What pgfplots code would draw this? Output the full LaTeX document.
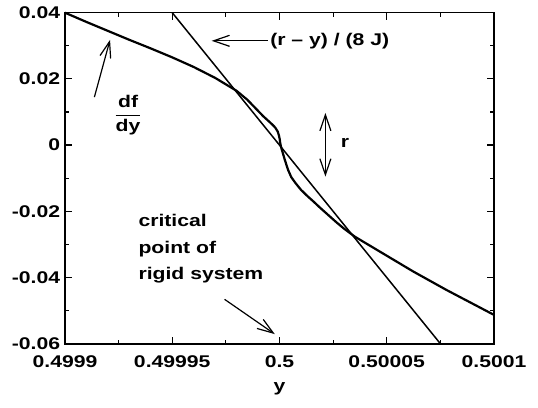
\documentclass[border=0pt]{standalone}
\usepackage{fontspec}
\setmainfont[FakeStretch=1.25]{Liberation Sans}
\usepackage{pgfplots}
\pgfplotsset{compat=1.18}
\usetikzlibrary{arrows.meta}
% x values are stored as (y - 0.5) * 1e5
\begin{document}
\fontsize{17}{20}\selectfont\bfseries
\begin{tikzpicture}[>={Straight Barb[length=16bp,width=11bp]}]
\begin{axis}[
  scale only axis, width=429bp, height=331bp,
  xmin=-10, xmax=10, ymin=-0.06, ymax=0.04,
  scaled y ticks=false, scaled x ticks=false,
  xtick={-10,-5,0,5,10},
  xticklabels={0.4999,0.49995,0.5,0.50005,0.5001},
  ytick={-0.06,-0.04,-0.02,0,0.02,0.04},
  yticklabels={-0.06,-0.04,-0.02,0,0.02,0.04},
  minor x tick num=1, minor y tick num=1,
  tick align=inside,
  major tick length=7bp, minor tick length=4bp,
  every tick/.style={line width=1.2bp, black},
  axis line style={line width=1.6bp},
  xlabel={y},
  xlabel style={yshift=-4bp},
  yticklabel style={xshift=1bp},
  xticklabel style={yshift=-6bp},
  /pgf/number format/assume math mode=true,
  clip=false,
]
% df/dy
\addplot[black, line width=2.2bp, line join=round] coordinates {
(-10,0.0400) (-9,0.0372) (-8,0.0345) (-7,0.0318) (-6,0.0292) (-5,0.0265)
(-4,0.0236) (-3,0.0203) (-2,0.0164) (-1.5,0.0137) (-1.142,0.0113)
(-0.755,0.0087) (-0.5,0.0072) (-0.317,0.0061) (-0.2,0.0053) (-0.084,0.0041)
(-0.03,0.0030) (0.01,0.0018) (0.03,0.0008) (0.06,-0.0002) (0.10,-0.0012)
(0.25,-0.0045) (0.40,-0.0075) (0.55,-0.0097) (0.75,-0.0115) (1.0,-0.0135)
(1.3,-0.0154) (1.576,-0.0170) (1.888,-0.0189) (2.354,-0.0216) (2.667,-0.0234)
(3.0,-0.0252) (3.52,-0.0277) (4.685,-0.0322)
(6.238,-0.0382) (7.795,-0.0438) (10,-0.0513)
};
% (r - y)/(8J)
\addplot[black, line width=1.5bp] coordinates {(-5,0.04) (7.5,-0.06)};
% annotations
\node[anchor=west, inner sep=0pt] at (axis cs:-0.44,0.0315) {(r -- y) / (8 J)};
\draw[->, line width=1.2bp] (axis cs:-0.55,0.0315) -- (axis cs:-3.16,0.0315);
\draw[->, line width=1.2bp] (axis cs:-8.63,0.0145) -- (axis cs:-7.90,0.0318);
\node[inner sep=0pt] at (axis cs:-7.06,0.0091) {$\displaystyle\frac{\mbox{df}}{\mbox{dy}}$};
\draw[<->, line width=1.2bp] (axis cs:2.14,0.0097) -- (axis cs:2.14,-0.0095);
\node[inner sep=0pt] at (axis cs:3.05,0.0007) {r};
\node[anchor=west, align=left, inner sep=0pt, font=\fontsize{17}{26.7}\selectfont\bfseries] at (axis cs:-6.58,-0.0314) {critical\\point of\\rigid system};
\draw[->, line width=1.2bp] (axis cs:-2.56,-0.0466) -- (axis cs:-0.22,-0.0571);
\end{axis}
\path ([shift={(-65bp,-63.5bp)}]current axis.south west) rectangle ([shift={(44bp,12.7bp)}]current axis.north east);
\end{tikzpicture}
\end{document}
